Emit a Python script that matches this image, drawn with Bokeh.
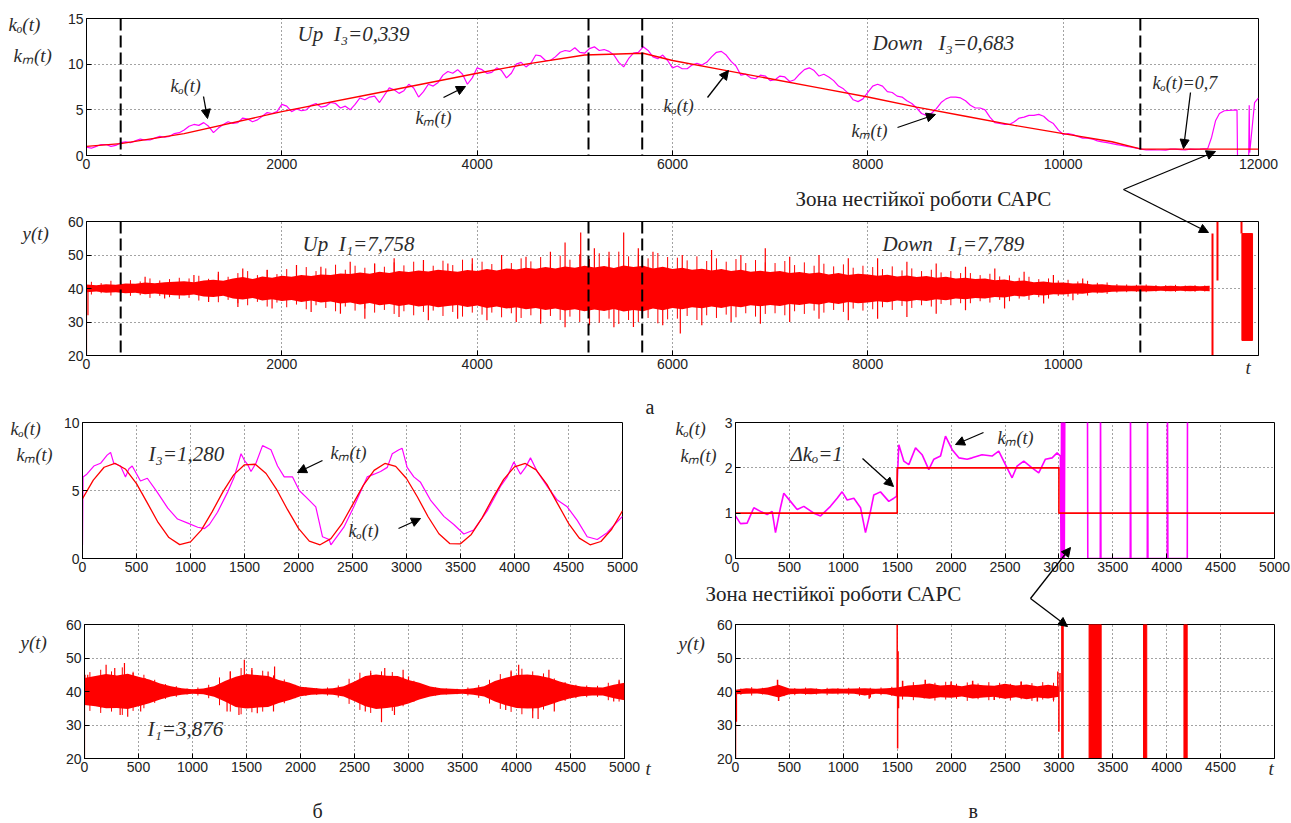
from bokeh.plotting import figure
from bokeh.models import Range1d, FixedTicker, Label, Arrow, NormalHead, Span
from bokeh.layouts import column, row
from bokeh.embed import file_html
from bokeh.resources import INLINE

RED = "#ff0000"
MAG = "#ff00ff"

# ======================= DATA =======================
# --- panel a, top: k_o(t), k_m(t) ---
ko_a_t = [0, 350, 1000, 2000, 3000, 4000, 4500, 5100, 5700, 6000, 6500, 7000, 7500,
          8000, 8500, 9000, 9500, 10000, 10500, 10800, 12000]
ko_a_v = [1.0, 1.3, 2.4, 4.8, 6.9, 9.0, 10.0, 11.0, 11.2, 10.4, 9.4, 8.4, 7.4,
          6.4, 5.3, 4.3, 3.3, 2.4, 1.5, 0.7, 0.7]
km_a_t = list(range(0, 11401, 100)) + [11480, 11520, 11560, 11600, 11650, 11780, 11785,
                                       11900, 11905, 11910, 11960, 12000]
km_a_v = [0.9, 1.0, 1.2, 1.1, 1.5, 1.6, 1.7, 1.9, 2.0, 2.4,
          2.8, 3.4, 3.6, 2.5, 3.4, 3.5, 4.1, 3.7, 4.3, 4.6,
          5.6, 4.8, 4.9, 5.5, 5.3, 5.8, 5.2, 5.0, 6.3, 6.4,
          5.8, 7.4, 6.8, 7.8, 6.4, 7.8, 8.0, 9.2, 9.4, 7.8,
          9.6, 9.0, 9.6, 8.5, 10.0, 9.7, 11.0, 10.4, 10.8, 11.5,
          11.8, 11.2, 11.9, 11.6, 11.0, 9.7, 11.2, 11.9, 10.8, 11.0,
          9.6, 9.5, 9.9, 9.9, 10.8, 11.4, 10.3, 8.8, 8.5, 8.8,
          8.2, 8.7, 8.1, 8.9, 9.6, 8.7, 8.6, 7.6, 6.8, 5.9,
          6.9, 7.8, 7.0, 6.5, 6.0, 5.2, 4.4, 5.1, 6.2, 6.4,
          6.0, 5.2, 5.0, 3.6, 3.4, 3.7, 4.2, 4.4, 4.3, 3.5,
          2.3, 2.3, 1.9, 1.8, 1.5, 1.3, 1.1, 0.9, 0.7, 0.65,
          0.6, 0.7, 0.65, 0.7, 0.7,
          0.75, 2.0, 3.8, 4.6, 4.9, 5.0, 0.0, 0.0, 5.5, 0.3, 5.8, 6.3]
# in-between readings of k_m(t) (t = 50, 150, ..., 11350)
km_a_mid_t = list(range(50, 11400, 100))
km_a_mid_v = [0.8, 1.2, 1.0, 1.4, 1.4, 1.8, 1.7, 2.1, 2.1, 2.5,
              3.2, 3.3, 3.2, 3.0, 3.7, 3.6, 4.0, 3.9, 4.7, 4.8,
              5.4, 5.1, 5.0, 5.7, 5.4, 5.7, 5.4, 5.6, 6.1, 6.5,
              6.6, 7.2, 7.1, 7.4, 7.0, 7.6, 8.8, 9.0, 8.9, 8.5,
              9.4, 9.1, 9.3, 9.0, 10.2, 10.1, 10.9, 10.4, 11.3, 11.4,
              11.3, 11.7, 11.5, 11.4, 10.2, 10.6, 11.3, 11.5, 10.6, 10.4,
              9.8, 9.5, 10.1, 10.2, 11.3, 11.0, 9.8, 8.9, 8.4, 8.7,
              8.3, 8.6, 8.3, 9.4, 9.3, 8.9, 8.2, 7.3, 6.1, 6.2,
              7.6, 7.6, 6.9, 6.4, 5.7, 4.6, 4.6, 5.8, 6.4, 6.3,
              5.5, 5.2, 4.2, 3.5, 3.4, 4.1, 4.4, 4.5, 3.8, 2.8,
              2.4, 2.1, 1.9, 1.6, 1.4, 1.2, 1.0, 0.8, 0.6, 0.62,
              0.58, 0.7, 0.6, 0.68]
switch_t = [350, 5140, 5690, 10790]

# --- panel a, bottom: y(t) ---
y_b_t = list(range(0, 11501, 100))
y_b_hi = [41.2, 41.0, 41.3, 41.1, 41.5, 41.4, 41.8, 41.6, 41.9, 42.0,
          42.2, 41.9, 42.4, 42.6, 42.3, 43.0, 43.4, 42.8, 43.6, 43.2,
          43.8, 43.5, 44.0, 43.7, 44.2, 44.0, 44.5, 44.3, 44.8, 44.4,
          45.0, 44.6, 45.2, 44.9, 45.4, 45.1, 45.6, 45.3, 45.0, 45.5,
          45.2, 45.8, 45.4, 46.0, 45.7, 46.2, 45.9, 46.4, 46.0, 46.6,
          46.2, 46.8, 46.3, 46.7, 46.1, 46.9, 46.4, 46.8, 46.0, 46.5,
          45.8, 46.2, 45.6, 45.9, 45.4, 45.8, 45.2, 45.6, 45.0, 45.3,
          44.9, 45.2, 44.6, 44.9, 44.5, 44.8, 44.2, 44.6, 44.0, 44.4,
          44.2, 43.8, 44.1, 43.6, 43.9, 43.4, 43.7, 43.2, 43.5, 43.0,
          43.2, 42.8, 43.0, 42.5, 42.7, 42.2, 42.4, 41.9, 42.1, 41.7,
          41.8, 41.5, 41.6, 41.2, 41.3, 41.0, 40.9, 40.8, 40.9, 40.8,
          40.7, 40.8, 40.7, 40.8, 40.7, 40.8]
y_b_lo = [38.9, 39.1, 38.7, 38.9, 38.6, 38.7, 38.3, 38.5, 38.2, 38.0,
          37.9, 38.2, 37.6, 37.5, 37.8, 37.0, 36.7, 37.2, 36.4, 36.8,
          36.3, 36.6, 36.0, 36.4, 35.8, 36.1, 35.5, 35.8, 35.2, 35.7,
          35.0, 35.4, 34.8, 35.2, 34.6, 35.0, 34.4, 34.8, 35.1, 34.5,
          34.9, 34.2, 34.6, 34.0, 34.4, 33.8, 34.2, 33.6, 34.0, 33.4,
          33.8, 33.2, 33.7, 33.3, 33.9, 33.1, 33.6, 33.2, 34.0, 33.5,
          34.2, 33.8, 34.4, 34.1, 34.6, 34.2, 34.8, 34.4, 35.0, 34.7,
          35.1, 34.8, 35.4, 35.1, 35.5, 35.2, 35.8, 35.4, 36.0, 35.6,
          35.8, 36.2, 35.9, 36.4, 36.1, 36.6, 36.3, 36.8, 36.5, 37.0,
          36.8, 37.2, 37.0, 37.5, 37.3, 37.8, 37.6, 38.1, 37.9, 38.3,
          38.2, 38.5, 38.4, 38.8, 38.7, 39.0, 39.1, 39.2, 39.1, 39.2,
          39.3, 39.2, 39.3, 39.2, 39.3, 39.2]
y_b2_t = list(range(50, 11500, 100))
y_b2_hi = [42.0, 41.6, 42.3, 41.8, 42.5, 42.1, 43.0, 42.4, 42.8, 43.2,
           43.0, 43.8, 42.9, 44.2, 43.5, 44.6, 45.2, 44.0, 45.6, 44.3,
           45.8, 44.9, 46.4, 45.2, 46.0, 47.1, 45.6, 46.8, 46.2, 47.4,
           46.5, 47.8, 46.9, 48.0, 47.2, 46.8, 48.3, 47.0, 48.6, 47.4,
           48.0, 47.3, 48.8, 47.6, 49.0, 48.1, 49.4, 48.3, 49.8, 48.6,
           50.2, 48.8, 50.5, 49.2, 51.0, 49.6, 50.1, 49.0, 50.6, 49.4,
           49.2, 48.4, 49.6, 48.2, 49.0, 48.0, 48.8, 47.6, 48.5, 47.8,
           47.6, 48.2, 47.0, 47.8, 46.8, 47.4, 46.6, 47.2, 46.2, 46.8,
           46.4, 45.8, 46.6, 45.4, 46.0, 45.2, 45.6, 44.8, 45.2, 44.6,
           44.6, 44.0, 44.4, 43.6, 43.9, 43.2, 43.5, 42.8, 43.0, 42.4,
           42.6, 42.1, 42.3, 41.7, 41.8, 41.3, 41.2, 41.1, 41.2, 41.0,
           41.0, 41.1, 40.9, 41.0, 40.9]
y_b2_lo = [38.2, 38.6, 37.9, 38.4, 37.8, 38.0, 37.2, 37.8, 37.4, 36.9,
           37.2, 36.4, 37.0, 35.9, 36.6, 35.6, 35.0, 36.0, 34.6, 35.8,
           34.4, 35.2, 33.8, 35.0, 34.2, 33.2, 34.6, 33.4, 34.0, 32.8,
           33.6, 32.4, 33.2, 32.0, 33.0, 33.4, 31.8, 33.0, 31.6, 32.8,
           32.2, 32.8, 31.4, 32.6, 31.2, 32.0, 30.8, 31.8, 30.6, 31.6,
           30.0, 31.4, 29.8, 31.0, 29.4, 30.6, 30.0, 31.2, 29.6, 30.8,
           31.0, 31.8, 30.6, 32.0, 31.2, 32.2, 31.4, 32.6, 31.6, 32.4,
           32.6, 32.0, 33.2, 32.4, 33.4, 32.8, 33.6, 33.0, 34.0, 33.4,
           33.8, 34.4, 33.6, 34.8, 34.2, 35.0, 34.6, 35.4, 35.0, 35.6,
           35.6, 36.2, 35.8, 36.6, 36.2, 37.0, 36.6, 37.4, 37.0, 37.8,
           37.6, 38.1, 37.9, 38.5, 38.4, 38.8, 38.9, 39.0, 38.9, 39.1,
           39.1, 39.0, 39.1, 39.0, 39.1]
spk_b_up_t = [600, 1100, 1350, 1600, 1850, 2150, 2400, 2700, 2950, 3150,
              3450, 3700, 3950, 4250, 4500, 4750, 4900, 5060, 5200, 5350,
              5500, 5650, 5800, 6100, 6400, 6700, 6950, 7200, 7500, 7800,
              8100, 8400, 8700, 9000, 9300, 9600, 9900, 10200]
spk_b_up_v = [43.5, 44, 45, 46, 45.5, 47, 46.5, 48, 47.5, 49,
              48.5, 47.5, 49, 50, 49.5, 51, 53.7, 56.7, 52, 51,
              56.7, 52, 51, 50, 51.5, 50, 52, 49.5, 50, 49,
              49, 48, 47.5, 46.5, 46, 45, 44, 43]
spk_b_dn_t = [0, 15, 800, 1250, 1550, 1900, 2300, 2600, 2850, 3200,
              3500, 3800, 4100, 4400, 4650, 4900, 5150, 5400, 5600, 5900,
              6080, 6300, 6600, 6900, 7200, 7500, 7800, 8100, 8400, 8700,
              9000, 9400, 9800, 10100]
spk_b_dn_v = [20, 32, 37, 36, 34.5, 34, 33, 32.5, 31, 31.5,
              30.5, 31, 30.5, 30, 29.5, 28.4, 29, 28.4, 28.5, 29,
              26.6, 29, 30, 29.5, 30, 31, 30.5, 31, 31.5, 32.5,
              33.5, 34, 35.5, 36.5]
uns_b_t = [11529, 11580, 11826]
uns_b_lo = [20, 42.4, 56.4]
uns_b_hi = [56.4, 60, 60]
blk_b_l, blk_b_r, blk_b_bot, blk_b_top = [11830], [11939], [24.5], [56.4]

# --- panel b (left), top: k_o(t), k_m(t) ---
ko_c_t = list(range(0, 5001, 100))
ko_c_v = [4.39, 5.76, 6.71, 7.00, 6.56, 5.51, 4.09, 2.65, 1.54, 1.02,
          1.22, 2.09, 3.43, 4.90, 6.15, 6.89, 6.93, 6.25, 5.04, 3.57,
          2.21, 1.28, 1.01, 1.46, 2.52, 3.94, 5.38, 6.48, 6.99, 6.77,
          5.88, 4.54, 3.07, 1.82, 1.10, 1.08, 1.77, 2.99, 4.46, 5.82,
          6.74, 6.99, 6.52, 5.45, 4.02, 2.59, 1.50, 1.01, 1.25, 2.15,
          3.50]
km_c_t = [0, 5, 40, 105, 167, 228, 260, 290, 352, 398,
          430, 460, 537, 600, 690, 790, 880, 975, 1067, 1130,
          1175, 1250, 1345, 1405, 1468, 1500, 1530, 1560, 1606, 1667,
          1745, 1806, 1868, 1945, 2007, 2084, 2160, 2222, 2284, 2300,
          2420, 2512, 2636, 2700, 2760, 2822, 2868, 2930, 2960, 3006,
          3068, 3130, 3222, 3346, 3438, 3531, 3623, 3747, 3870, 3932,
          3994, 4056, 4102, 4148, 4210, 4303, 4396, 4488, 4581, 4673,
          4766, 4858, 4951, 5000]
km_c_v = [1.0, 6.0, 6.2, 6.8, 7.0, 7.6, 7.8, 7.0, 6.8, 6.0,
          6.6, 6.8, 5.7, 5.9, 4.9, 3.7, 2.9, 2.6, 2.3, 2.2,
          2.5, 3.4, 4.9, 6.0, 7.7, 7.2, 6.9, 6.4, 7.0, 8.3,
          8.0, 6.8, 6.0, 6.0, 5.0, 4.4, 3.8, 1.6, 1.4, 1.0,
          2.3, 3.8, 6.0, 6.2, 6.4, 6.7, 7.7, 8.0, 8.1, 6.7,
          6.0, 5.6, 4.3, 3.1, 2.5, 1.8, 2.1, 3.5, 5.3, 6.0,
          7.1, 6.2, 6.7, 7.4, 6.4, 5.3, 4.3, 3.8, 2.8, 1.6,
          1.4, 1.9, 2.7, 3.1]

# --- panel b (left), bottom: y(t) ---
y_d_t = list(range(0, 5001, 100))
y_d_hi = [44.0, 44.6, 45.2, 44.8, 45.3, 44.4, 43.6, 42.4, 41.6, 41.0,
          40.7, 40.9, 41.6, 43.1, 44.4, 45.2, 44.9, 44.6, 43.4, 42.6,
          41.4, 41.1, 40.8, 41.0, 41.6, 43.0, 44.6, 45.1, 44.7, 44.6,
          43.4, 42.6, 41.5, 41.0, 40.8, 40.7, 41.0, 41.6, 43.1, 44.1,
          44.9, 45.1, 44.8, 44.1, 43.0, 42.1, 41.5, 41.3, 41.2, 42.0,
          42.6]
y_d_lo = [36.0, 35.6, 35.0, 35.1, 34.8, 35.6, 36.5, 37.6, 38.5, 39.0,
          39.3, 39.2, 38.4, 37.0, 35.4, 34.9, 35.2, 35.4, 36.6, 37.5,
          38.6, 39.0, 39.2, 39.0, 38.5, 37.1, 35.6, 34.8, 35.1, 35.5,
          36.4, 37.6, 38.5, 39.0, 39.2, 39.3, 39.0, 38.5, 37.0, 35.9,
          35.1, 34.9, 35.0, 36.0, 37.1, 38.0, 38.6, 38.8, 38.8, 38.0,
          37.4]
y_d2_t = list(range(50, 5000, 100))
y_d2_hi = [45.8, 46.5, 46.0, 47.2, 45.9, 45.0, 43.5, 42.2, 41.6, 40.9,
           41.2, 42.0, 44.2, 46.0, 47.0, 46.4, 46.2, 44.8, 43.6, 42.0,
           41.3, 41.0, 41.2, 41.8, 43.8, 45.6, 46.2, 46.0, 45.8, 44.3,
           43.2, 41.8, 41.2, 40.9, 40.8, 41.2, 41.9, 43.5, 45.2, 46.3,
           46.8, 46.0, 45.4, 43.9, 42.8, 42.0, 41.8, 41.7, 42.6, 43.0]
y_d2_lo = [34.2, 33.6, 34.0, 33.0, 34.2, 35.0, 36.6, 37.8, 38.4, 39.1,
           38.8, 38.0, 35.9, 34.0, 33.2, 33.8, 34.0, 35.2, 36.5, 38.0,
           38.7, 39.0, 38.8, 38.2, 36.3, 34.5, 33.6, 33.0, 34.2, 35.6,
           36.9, 38.2, 38.8, 39.1, 39.2, 38.8, 38.1, 36.4, 34.8, 33.9,
           33.2, 34.1, 34.6, 36.2, 37.2, 38.0, 38.3, 38.4, 37.4, 37.0]
spk_d_t = [0, 5, 30, 150, 200, 280, 330, 370, 400, 450,
           520, 560, 1320, 1350, 1430, 1480, 1550, 1600, 1700, 1750,
           1760, 2600, 2650, 2750, 2780, 2870, 2950, 3000, 3900, 3950,
           4020, 4150, 4200, 4300, 4350, 4900, 4950]
spk_d_v = [20, 45, 45, 35, 48, 47, 33, 48.5, 32.5, 45.5,
           34, 44, 34, 46, 33, 49.5, 47, 33.5, 46, 34,
           47.5, 34, 45.5, 30.8, 47, 33, 46.5, 44.5, 34.5, 46,
           48, 32, 31.8, 46.5, 34, 37, 43.5]

# --- panel c (right), top: step test ---
ko_e_t = [0, 1500, 1500, 3000, 3000, 5000]
ko_e_v = [1, 1, 2, 2, 1, 1]
km_e_t = [0, 46, 108, 170, 232, 294, 340, 371, 417, 448,
          510, 572, 634, 727, 789, 881, 943, 989, 1036, 1098,
          1160, 1206, 1252, 1283, 1345, 1422, 1469, 1494, 1515, 1561,
          1608, 1670, 1731, 1793, 1840, 1902, 1948, 2010, 2072, 2149,
          2195, 2287, 2380, 2442, 2504, 2566, 2612, 2674, 2751, 2813,
          2875, 2937, 2983, 3014,
          3020, 3025, 3035, 3040, 3050, 3055, 3265, 3268, 3384, 3386,
          3390, 3662, 3664, 3668, 3820, 3822, 3826, 4005, 4007, 4011,
          4191, 4193, 5000]
km_e_v = [0.94, 0.77, 0.78, 1.12, 1.04, 0.97, 1.04, 0.57, 1.12, 1.44,
          1.26, 1.08, 1.15, 1.0, 0.94, 1.15, 1.33, 1.47, 1.29, 1.33,
          1.12, 0.57, 1.04, 1.40, 1.47, 1.26, 1.33, 1.37, 2.51, 2.15,
          2.07, 2.44, 2.29, 1.96, 2.19, 2.26, 2.70, 2.40, 2.22, 2.19,
          2.22, 2.29, 2.26, 2.37, 2.07, 1.78, 2.04, 2.15, 2.0, 1.89,
          2.19, 2.22, 2.33, 2.26,
          0, 3.5, 0, 3.5, 0, 3.5, 3.5, 0, 0, 3.5,
          0, 0, 3.5, 0, 0, 3.5, 0, 0, 3.5, 0,
          0, 3.5, 3.5]

# --- panel c (right), bottom: y(t) ---
y_f_t = list(range(0, 3001, 100))
y_f_hi = [40.5, 41.0, 40.8, 41.2, 42.0, 40.9, 40.8, 41.0, 40.7, 40.9,
          40.8, 40.9, 41.0, 40.8, 41.0, 41.2, 41.8, 42.0, 42.4, 41.8,
          42.0, 41.6, 42.2, 41.9, 41.7, 42.3, 41.8, 42.1, 41.6, 42.0,
          41.5]
y_f_lo = [39.2, 39.3, 39.4, 39.0, 38.2, 39.2, 39.3, 39.2, 39.4, 39.3,
          39.4, 39.3, 38.8, 39.3, 39.2, 38.5, 38.4, 38.2, 37.8, 38.3,
          38.1, 38.5, 37.9, 38.2, 38.4, 37.8, 38.3, 37.7, 38.2, 37.9,
          38.4]
y_f2_t = list(range(50, 3000, 100))
y_f2_hi = [40.9, 41.3, 41.1, 41.6, 41.2, 41.0, 41.2, 40.9, 41.1, 41.0,
           41.1, 41.3, 41.1, 41.2, 41.4, 42.5, 42.8, 42.2, 42.6, 42.9,
           42.3, 42.7, 42.4, 42.8, 42.6, 42.3, 42.9, 42.5, 42.8, 42.6]
y_f2_lo = [39.0, 38.8, 39.1, 38.9, 38.6, 38.9, 39.0, 39.1, 38.9, 39.1,
           39.0, 38.7, 39.0, 38.9, 38.7, 37.6, 37.4, 37.9, 37.3, 37.6,
           37.8, 37.2, 37.7, 37.4, 37.9, 37.3, 37.7, 37.2, 37.6, 37.0]
spk_f_t = [0, 8, 390, 400, 1240, 1250, 1500, 1504, 1508, 1512, 1550,
           1760, 2000, 2200, 2400, 2650, 2800, 2950, 2990, 3000, 3010]
spk_f_v = [20, 31, 43.5, 37.2, 37.8, 38.2, 60, 23, 52, 35, 43.2,
           43.5, 43.0, 43.2, 37.5, 43.0, 37.0, 37.5, 46, 28, 45.5]
uns_f_t = [3030, 3036]
uns_f_lo = [20, 20]
uns_f_hi = [60, 60]
blk_f_l = [3280, 3785, 4160]
blk_f_r = [3392, 3815, 4190]
blk_f_bot = [20, 20, 20]
blk_f_top = [60, 60, 60]
SETPOINT = 40

ticks_a = [0, 2000, 4000, 6000, 8000, 10000, 12000]
ticks_b = [0, 2000, 4000, 6000, 8000, 10000]
ticks_5k = [0, 500, 1000, 1500, 2000, 2500, 3000, 3500, 4000, 4500, 5000]
ticks_45 = [0, 500, 1000, 1500, 2000, 2500, 3000, 3500, 4000, 4500]

# ======================= LAYOUT (page pixels) =======================
SPEC = {
    "A": dict(canvas=(0, 0, 1291, 205), frame=(86, 1258, 18, 155), xr=(0, 12000), yr=(0, 15)),
    "B": dict(canvas=(0, 205, 1291, 195), frame=(86, 1258, 221, 355), xr=(0, 12000), yr=(20, 60)),
    "C": dict(canvas=(0, 400, 640, 205), frame=(82, 622, 422, 558), xr=(0, 5000), yr=(0, 10)),
    "E": dict(canvas=(640, 400, 651, 205), frame=(735, 1274, 421, 558), xr=(0, 5000), yr=(0, 3)),
    "D": dict(canvas=(0, 605, 640, 218), frame=(84, 624, 624, 758), xr=(0, 5000), yr=(20, 60)),
    "F": dict(canvas=(640, 605, 651, 218), frame=(735, 1274, 623, 759), xr=(0, 5000), yr=(20, 60)),
}


def make(key, xticks, yticks):
    s = SPEC[key]
    cx, cy, w, h = s["canvas"]
    fx0, fx1, fy0, fy1 = s["frame"]
    p = figure(width=w, height=h, x_range=Range1d(*s["xr"]), y_range=Range1d(*s["yr"]),
               output_backend="svg", toolbar_location=None,
               min_border_left=fx0 - cx, min_border_right=cx + w - fx1,
               min_border_top=fy0 - cy, min_border_bottom=cy + h - fy1)
    p.outline_line_color = "black"
    p.outline_line_alpha = 1
    p.outline_line_width = 1
    p.background_fill_color = "white"
    p.border_fill_color = "white"
    for ax, tk in ((p.xaxis[0], xticks), (p.yaxis[0], yticks)):
        ax.ticker = FixedTicker(ticks=tk)
        ax.major_tick_in = 5
        ax.major_tick_out = 0
        ax.major_tick_line_color = "black"
        ax.minor_tick_line_color = None
        ax.axis_line_color = "black"
        ax.major_label_text_font = "Liberation Sans"
        ax.major_label_text_font_size = "14px"
        ax.major_label_text_color = "#222222"
        ax.major_label_standoff = 3
    for g in (p.xgrid[0], p.ygrid[0]):
        g.grid_line_color = "#333333"
        g.grid_line_dash = "1 3"
        g.grid_line_width = 1
        g.grid_line_alpha = 0.9
    return p


def noise(p, t, lo, hi, t2, lo2, hi2, st, sv, w=1.2):
    p.varea(x=t, y1=lo, y2=hi, fill_color=RED)
    p.segment(x0=t2, y0=lo2, x1=t2, y1=hi2, line_color=RED, line_width=1)
    p.segment(x0=st, y0=[SETPOINT] * len(st), x1=st, y1=sv, line_color=RED, line_width=w)


# ---------------- A ----------------
pa = make("A", ticks_a, [0, 5, 10, 15])
km_a_pts = sorted(zip(km_a_t + km_a_mid_t, km_a_v + km_a_mid_v))
pa.line([q[0] for q in km_a_pts], [q[1] for q in km_a_pts], line_color=MAG, line_width=1.2)
pa.line(ko_a_t, ko_a_v, line_color=RED, line_width=1.4)
for t in switch_t:
    pa.add_layout(Span(location=t, dimension="height", line_color="black", line_width=2, line_dash="12 5"))

# ---------------- B ----------------
pb = make("B", ticks_b, [20, 30, 40, 50, 60])
noise(pb, y_b_t, y_b_lo, y_b_hi, y_b2_t, y_b2_lo, y_b2_hi,
      spk_b_up_t + spk_b_dn_t, spk_b_up_v + spk_b_dn_v)
pb.segment(x0=uns_b_t, y0=uns_b_lo, x1=uns_b_t, y1=uns_b_hi, line_color=RED, line_width=2)
pb.quad(left=blk_b_l, right=blk_b_r, bottom=blk_b_bot, top=blk_b_top, fill_color=RED, line_color=RED)
for t in switch_t:
    pb.add_layout(Span(location=t, dimension="height", line_color="black", line_width=2, line_dash="12 5"))

# ---------------- C ----------------
pc = make("C", ticks_5k, [0, 5, 10])
pc.line(km_c_t, km_c_v, line_color=MAG, line_width=1.2)
pc.line(ko_c_t, ko_c_v, line_color=RED, line_width=1.3)

# ---------------- E ----------------
pe = make("E", ticks_5k, [0, 1, 2, 3])
pe.line(km_e_t, km_e_v, line_color=MAG, line_width=1.6)
pe.line(ko_e_t, ko_e_v, line_color=RED, line_width=1.6)

# ---------------- D ----------------
pd_ = make("D", ticks_5k, [20, 30, 40, 50, 60])
noise(pd_, y_d_t, y_d_lo, y_d_hi, y_d2_t, y_d2_lo, y_d2_hi, spk_d_t, spk_d_v)

# ---------------- F ----------------
pf = make("F", ticks_45, [20, 30, 40, 50, 60])
noise(pf, y_f_t, y_f_lo, y_f_hi, y_f2_t, y_f2_lo, y_f2_hi, spk_f_t, spk_f_v, w=1.5)
pf.segment(x0=uns_f_t, y0=uns_f_lo, x1=uns_f_t, y1=uns_f_hi, line_color=RED, line_width=2)
pf.quad(left=blk_f_l, right=blk_f_r, bottom=blk_f_bot, top=blk_f_top, fill_color=RED, line_color=RED)

main = column(pa, pb, row(pc, pe), row(pd_, pf))

# ------------- annotation overlay (page-pixel coordinates) -------------
ov = figure(width=1291, height=823, x_range=Range1d(0, 1291), y_range=Range1d(823, 0),
            output_backend="svg", toolbar_location=None, min_border=0,
            x_axis_type=None, y_axis_type=None)
ov.outline_line_color = None
ov.background_fill_alpha = 0
ov.border_fill_alpha = 0
ov.xgrid.visible = False
ov.ygrid.visible = False
ov.styles = {"position": "absolute", "left": "0px", "top": "0px",
             "pointer-events": "none", "z-index": "10"}

NB = "\u00a0"


def txt(X, Y, s, size=18, style="italic", color="#2b2b2b"):
    ov.add_layout(Label(x=X, y=Y, text=s, text_font="Liberation Serif", text_font_style=style,
                        text_font_size=f"{size}px", text_align="left", text_baseline="middle",
                        text_color=color))


def arr(X0, Y0, X1, Y1, head=True):
    end = NormalHead(size=9, fill_color="black", line_color="black", line_width=1) if head else None
    ov.add_layout(Arrow(end=end, x_start=X0, y_start=Y0, x_end=X1, y_end=Y1,
                        line_color="black", line_width=1.3))


# top panel
txt(8, 24, "kₒ(t)", 19)
txt(13, 55, "kₘ(t)", 19)
txt(297, 33, "Up" + NB * 2 + "I₃=0,339", 21)
txt(872, 42, "Down" + NB * 3 + "I₃=0,683", 21)
txt(170, 85, "kₒ(t)")
arr(203, 96, 207, 118)
txt(415, 117, "kₘ(t)")
arr(443, 97, 465, 86)
txt(663, 105, "kₒ(t)")
arr(707, 97, 728, 70)
txt(851, 130, "kₘ(t)")
arr(897, 127, 935, 114)
txt(1152, 82, "kₒ(t)=0,7")
arr(1190, 92, 1183, 148)
txt(795, 198, "Зона нестійкої роботи САРС", 21, "normal", "#222222")
arr(1123, 189, 1215, 151)
arr(1123, 189, 1208, 232)
# second panel
txt(22, 233, "y(t)", 19)
txt(302, 243, "Up" + NB * 2 + "I₁=7,758", 21)
txt(882, 243, "Down" + NB * 3 + "I₁=7,789", 21)
txt(1245, 367, "t", 19)
txt(645, 406, "а", 20, "normal", "#222222")
# lower left top
txt(10, 428, "kₒ(t)")
txt(16, 454, "kₘ(t)")
txt(148, 453, "I₃=1,280", 21)
txt(330, 452, "kₘ(t)")
arr(322, 460, 297, 472)
txt(348, 530, "kₒ(t)")
arr(398, 528, 420, 518)
# lower right top
txt(675, 428, "kₒ(t)")
txt(680, 455, "kₘ(t)")
txt(790, 453, "Δkₒ=1", 21)
arr(862, 458, 893, 486)
txt(997, 437, "kₘ(t)")
arr(983, 432, 955, 444)
txt(705, 593, "Зона нестійкої роботи САРС", 21, "normal", "#222222")
arr(1030, 598, 1070, 547)
arr(1030, 598, 1067, 626)
# lower left bottom
txt(20, 642, "y(t)", 19)
txt(147, 728, "I₁=3,876", 21)
txt(312, 810, "б", 20, "normal", "#222222")
# lower right bottom
txt(678, 643, "y(t)", 19)
txt(645, 768, "t", 19)
txt(1268, 768, "t", 19)
txt(968, 810, "в", 20, "normal", "#222222")

html = file_html([main, ov], INLINE)
html = html.replace("<body>", '<body style="margin:0;padding:0;">', 1)
open("out.html", "w").write(html)
